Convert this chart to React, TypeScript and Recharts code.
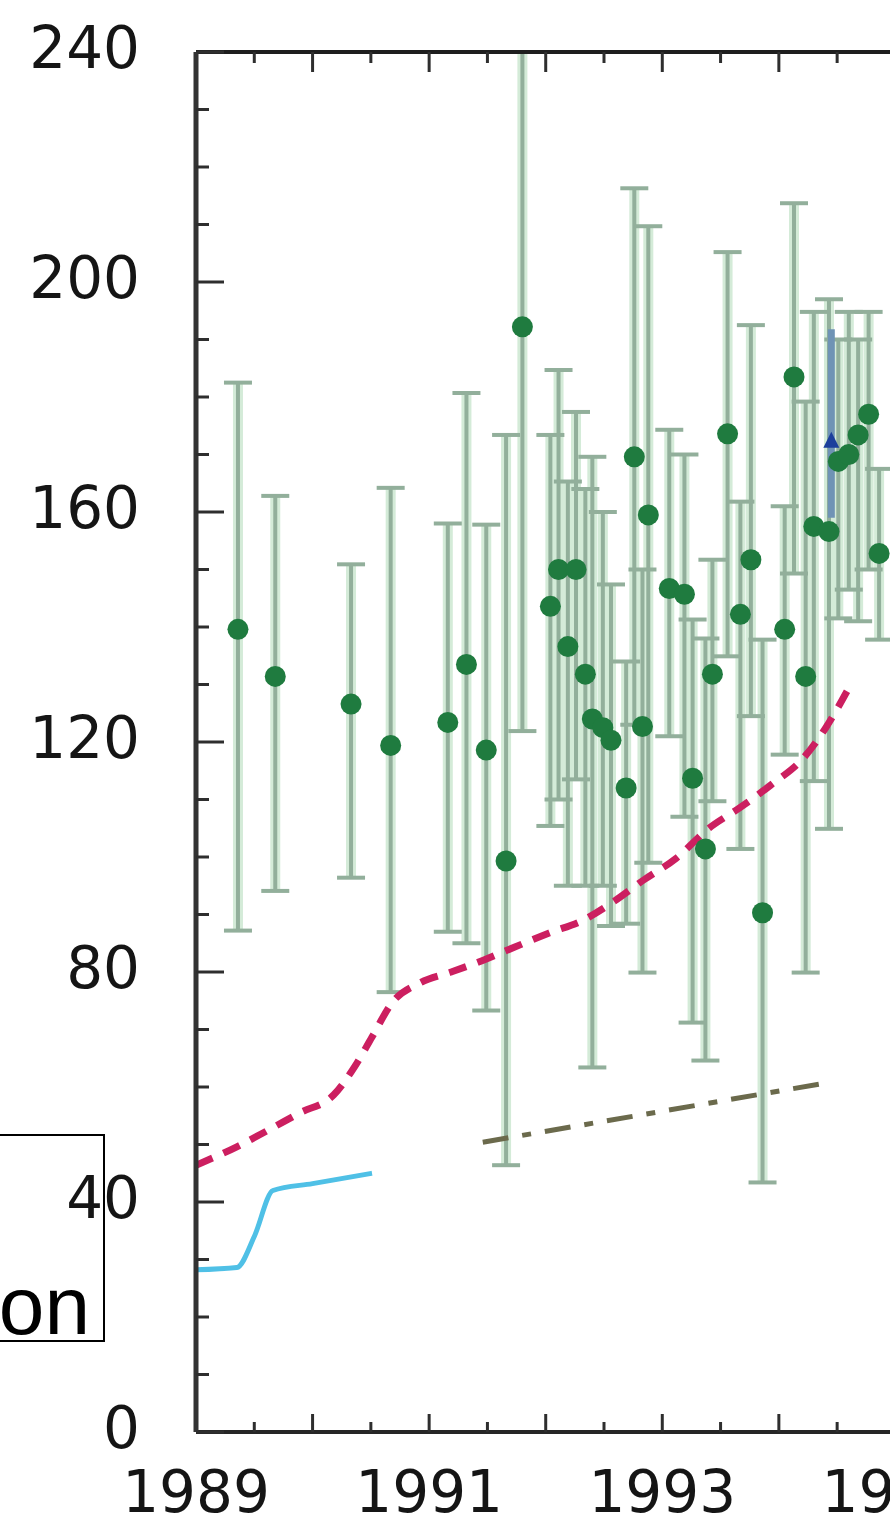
import React from 'react';
import { ComposedChart, Scatter, Line, XAxis, YAxis, ErrorBar } from 'recharts';

// green measurements: year, value, lower / upper end of the error bar
const years = [
  1989.36, 1989.68, 1990.33, 1990.67, 1991.16, 1991.32, 1991.49, 1991.66, 1991.8, 1992.04,
  1992.11, 1992.19, 1992.26, 1992.34, 1992.4, 1992.49, 1992.56, 1992.69, 1992.76, 1992.83,
  1992.88, 1993.06, 1993.19, 1993.26, 1993.37, 1993.43, 1993.56, 1993.67, 1993.76, 1993.86,
  1994.05, 1994.13, 1994.23, 1994.3, 1994.43, 1994.51, 1994.6, 1994.68, 1994.77, 1994.86,
];
const values = [
  139.6, 131.4, 126.6, 119.4, 123.4, 133.5, 118.6, 99.3, 192.2, 143.6,
  150.0, 136.6, 150.0, 131.8, 124.0, 122.5, 120.3, 112.0, 169.6, 122.7,
  159.5, 146.7, 145.7, 113.7, 101.4, 131.8, 173.6, 142.2, 151.7, 90.3,
  139.6, 183.5, 131.4, 157.5, 156.6, 168.8, 170.0, 173.4, 177.0, 152.8,
];
const lows = [
  87.2, 94.1, 96.4, 76.5, 87.0, 85.0, 73.3, 46.4, 121.9, 105.4,
  110.0, 95.0, 113.5, 95.0, 63.4, 95.0, 88.0, 88.4, 123.0, 79.9,
  99.0, 121.0, 107.0, 71.2, 64.6, 109.7, 134.9, 101.4, 124.5, 43.4,
  117.8, 149.3, 79.9, 113.2, 104.9, 141.5, 146.5, 141.0, 150.0, 137.8,
];
const highs = [
  182.5, 162.8, 150.9, 164.2, 158.0, 180.7, 157.8, 173.4, 240.0, 173.4,
  184.7, 165.3, 177.4, 164.0, 169.6, 160.0, 147.4, 134.0, 216.3, 150.0,
  209.7, 174.3, 170.0, 141.3, 138.0, 151.7, 205.2, 161.8, 192.5, 137.8,
  161.0, 213.7, 179.2, 194.8, 197.0, 190.0, 194.8, 190.0, 194.8, 167.5,
];

// single blue triangle
const blueYears = [1994.45];
const blueValues = [172.2];
const blueLows = [159.0];
const blueHighs = [191.8];

// pink dashed curve
const pinkYears = [
  1989.0, 1989.35, 1989.62, 1989.89, 1990.18, 1990.36, 1990.51, 1990.68, 1990.92, 1991.19,
  1991.47, 1991.73, 1992.03, 1992.32, 1992.58, 1992.84, 1993.12, 1993.4, 1993.66, 1993.93,
  1994.21, 1994.4, 1994.6,
];
const pinkValues = [
  46.4, 49.6, 52.5, 55.5, 58.6, 63.5, 68.7, 74.6, 78.1, 80.0,
  82.1, 84.3, 86.8, 89.0, 92.2, 96.0, 99.8, 105.0, 108.5, 112.5,
  117.2, 122.4, 129.4,
];

// cyan solid curve
const cyanYears = [1989.0, 1989.35, 1989.5, 1989.66, 1990.0, 1990.51];
const cyanValues = [28.2, 28.6, 34.0, 42.0, 43.2, 45.0];

// olive dash-dot line
const oliveYears = [1991.46, 1994.46];
const oliveValues = [50.4, 60.9];

const yTicks = [0, 10, 20, 30, 40, 50, 60, 70, 80, 90, 100, 110, 120, 130, 140, 150, 160, 170, 180, 190, 200, 210, 220, 230, 240];
const yLabels = [0, 40, 80, 120, 160, 200, 240];
const xLabels = [1989, 1991, 1993, 1995];
const xMajor = [1990, 1991, 1992, 1993, 1994, 1995];
const xMinor = [1989.5, 1990.5, 1991.5, 1992.5, 1993.5, 1994.5, 1995.5];

const greenData = years.map((x, i) => ({
  x,
  v: values[i],
  err: [values[i] - lows[i], highs[i] - values[i]],
}));
const blueData = blueYears.map((x, i) => ({
  x,
  v: blueValues[i],
  err: [blueValues[i] - blueLows[i], blueHighs[i] - blueValues[i]],
}));
const pinkData = pinkYears.map((x, i) => ({ x, v: pinkValues[i] }));
const cyanData = cyanYears.map((x, i) => ({ x, v: cyanValues[i] }));
const oliveData = oliveYears.map((x, i) => ({ x, v: oliveValues[i] }));

const bottomTicks = [...xLabels, ...xMajor, ...xMinor]
  .filter((t, i, arr) => arr.indexOf(t) === i)
  .sort((a, b) => a - b);
const topTicks = [...xMajor, ...xMinor].sort((a, b) => a - b);

const labelFont = { fontFamily: '"DejaVu Sans", sans-serif', fontSize: 58, fill: '#151515' };
const tickColor = '#2e2e2e';

const LeftTick = ({ x, y, payload }: any) => {
  const major = yLabels.includes(payload.value);
  return (
    <g>
      <line x1={x} x2={x + (major ? 28 : 13)} y1={y} y2={y} stroke={tickColor} strokeWidth={3} />
      {major && (
        <text x={x - 56} y={y - 4} textAnchor="end" dominantBaseline="central" {...labelFont}>
          {payload.value}
        </text>
      )}
    </g>
  );
};

const BottomTick = ({ x, y, payload }: any) => {
  const v = payload.value;
  const len = xMajor.includes(v) ? 18 : xMinor.includes(v) ? 10 : 0;
  return (
    <g>
      {len > 0 && <line x1={x} x2={x} y1={y} y2={y - len} stroke={tickColor} strokeWidth={3} />}
      {xLabels.includes(v) && (
        <text x={x} y={y + 80} textAnchor="middle" {...labelFont}>
          {v}
        </text>
      )}
    </g>
  );
};

const TopTick = ({ x, y, payload }: any) => {
  const len = xMajor.includes(payload.value) ? 20 : 11;
  return <line x1={x} x2={x} y1={y} y2={y + len} stroke={tickColor} strokeWidth={3} />;
};

const GreenDot = (p: any) => <circle cx={p.cx} cy={p.cy} r={10.5} fill="#1f7b3f" />;

const BlueTriangle = (p: any) => (
  <polygon
    points={`${p.cx},${p.cy - 10} ${p.cx - 8},${p.cy + 6} ${p.cx + 8},${p.cy + 6}`}
    fill="#1c3f9c"
  />
);

export default function App() {
  return (
    <div
      style={{
        position: 'absolute',
        left: 0,
        top: 0,
        width: 890,
        height: 1525,
        overflow: 'hidden',
        background: '#fff',
      }}
    >
      <ComposedChart width={1012} height={1525} margin={{ top: 51, right: 0, bottom: 0, left: 0 }}>
        <XAxis
          dataKey="x"
          type="number"
          domain={[1989, 1996]}
          allowDataOverflow
          ticks={bottomTicks}
          interval={0}
          tickSize={0}
          tickMargin={0}
          height={93}
          tick={<BottomTick />}
          axisLine={{ stroke: '#262626', strokeWidth: 4 }}
        />
        <XAxis
          xAxisId="top"
          orientation="top"
          dataKey="x"
          type="number"
          domain={[1989, 1996]}
          allowDataOverflow
          ticks={topTicks}
          interval={0}
          tickSize={0}
          tickMargin={0}
          height={1}
          tick={<TopTick />}
          axisLine={{ stroke: '#1e1e1e', strokeWidth: 4 }}
        />
        <YAxis
          type="number"
          domain={[0, 240]}
          allowDataOverflow
          ticks={yTicks}
          interval={0}
          tickSize={0}
          tickMargin={0}
          width={196}
          tick={<LeftTick />}
          axisLine={{ stroke: '#333', strokeWidth: 5 }}
        />
        <Scatter data={greenData} dataKey="v" shape={<GreenDot />} isAnimationActive={false}>
          <ErrorBar dataKey="err" direction="y" width={0} stroke="#d4ebd8" strokeWidth={10} />
          <ErrorBar dataKey="err" direction="y" width={14} stroke="#92af9b" strokeWidth={4} />
        </Scatter>
        <Scatter data={blueData} dataKey="v" shape={<BlueTriangle />} isAnimationActive={false}>
          <ErrorBar dataKey="err" direction="y" width={0} stroke="#6f93b5" strokeWidth={7} />
        </Scatter>
        <Line
          data={pinkData}
          dataKey="v"
          type="monotone"
          stroke="#cc1f60"
          strokeWidth={7}
          strokeDasharray="18 12"
          dot={false}
          activeDot={false}
          isAnimationActive={false}
        />
        <Line
          data={cyanData}
          dataKey="v"
          type="monotone"
          stroke="#4fc0e6"
          strokeWidth={5}
          dot={false}
          activeDot={false}
          isAnimationActive={false}
        />
        <Line
          xAxisId="top"
          data={oliveData}
          dataKey="v"
          type="linear"
          stroke="#6b6a4c"
          strokeWidth={5}
          strokeDasharray="26 14 9 14"
          dot={false}
          activeDot={false}
          isAnimationActive={false}
        />
      </ComposedChart>

      <div
        style={{
          position: 'absolute',
          left: -20,
          top: 1134,
          width: 125,
          height: 208,
          boxSizing: 'border-box',
          border: '2px solid #000',
        }}
      />
      <div
        style={{
          position: 'absolute',
          left: -200,
          top: 1265,
          width: 290,
          textAlign: 'right',
          fontFamily: '"Liberation Sans", Arial, sans-serif',
          fontSize: 82,
          lineHeight: 1,
          color: '#000',
        }}
      >
        on
      </div>
    </div>
  );
}
